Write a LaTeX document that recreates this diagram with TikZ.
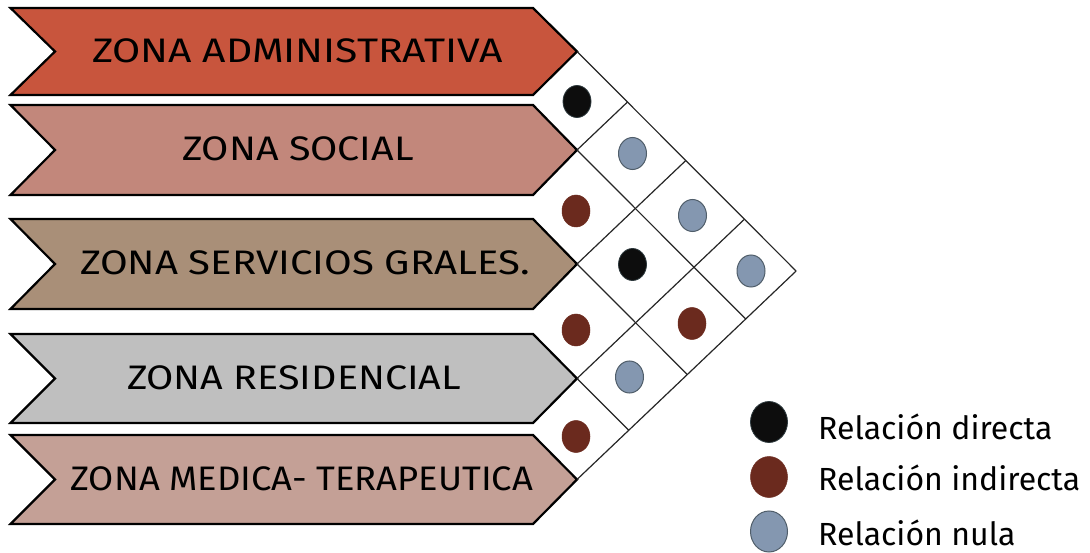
\documentclass[tikz,border=0pt]{standalone}
\usepackage{fontspec}
\setmainfont{Fira Sans}
\usetikzlibrary{calc,shapes.geometric}
\definecolor{cA}{HTML}{C8553D}
\definecolor{cB}{HTML}{C2877B}
\definecolor{cC}{HTML}{A98F78}
\definecolor{cD}{HTML}{BFBFBF}
\definecolor{cE}{HTML}{C4A096}
\definecolor{dotblack}{HTML}{0D0D0D}
\definecolor{dotred}{HTML}{6B2A1E}
\definecolor{dotblue}{HTML}{8497B0}
\definecolor{blueedge}{HTML}{505E6A}
\definecolor{blackedge}{HTML}{2E3A3E}
\begin{document}
\begin{tikzpicture}[x=1pt,y=-1pt,
  chev/.style={draw=black,line width=2.2pt,line join=miter},
  zlabel/.style={font=\fontsize{34}{40}\selectfont,inner sep=0pt,anchor=center},
  gridline/.style={draw=black!85,line width=1.2pt},
  dot/.style={ellipse,minimum width=28pt,minimum height=32pt,inner sep=0pt},
  ldot/.style={ellipse,minimum width=37pt,minimum height=41pt,inner sep=0pt},
  direct/.style={fill=dotblack,draw=blackedge,line width=0.8pt},
  indirect/.style={fill=dotred,draw=dotred,line width=0.5pt},
  nula/.style={fill=dotblue,draw=blueedge,line width=1pt},
  legtext/.style={font=\fontsize{32}{38}\selectfont,inner sep=0pt,anchor=base west}]
\useasboundingbox (0,0) rectangle (1090,553);
% chevrons
\foreach \t/\b/\c/\n/\xc/\sx/\txt in {8/95/cA/1/297.5/1.20/ZONA ADMINISTRATIVA,
  105/195/cB/2/298/1.16/ZONA SOCIAL,
  219/309/cC/3/305/1.18/ZONA SERVICIOS GRALES.,
  334/423/cD/4/294/1.16/ZONA RESIDENCIAL,
  435/524/cE/5/302/1.07/ZONA MEDICA- TERAPEUTICA}{
  \pgfmathsetmacro\m{(\t+\b)/2}
  \draw[chev,fill=\c] (10.5,\t) -- (533,\t) -- (577,\m) -- (533,\b) -- (10.5,\b) -- (55,\m) -- cycle;
  \coordinate (t\n) at (577,\m);
  \coordinate (d\n) at ($(t\n)+(219,219.5)$);
  \coordinate (u\n) at ($(t\n)+(219,-208.5)$);
  \node[zlabel] (z\n) at (\xc,\m-1) {\scalebox{\sx}[1]{\txt}};
}
% grid
\coordinate (R) at (intersection of t1--d1 and t5--u5);
\draw[gridline] (t1) -- (R);
\draw[gridline] (t2) -- (intersection of t2--d2 and t5--u5);
\draw[gridline] (t3) -- (intersection of t3--d3 and t5--u5);
\draw[gridline] (t4) -- (intersection of t4--d4 and t5--u5);
\draw[gridline] (t5) -- (R);
\draw[gridline] (t2) -- (intersection of t1--d1 and t2--u2);
\draw[gridline] (t3) -- (intersection of t1--d1 and t3--u3);
\draw[gridline] (t4) -- (intersection of t1--d1 and t4--u4);
% dots
\node[dot,direct] (r12) at (577,101.5) {};
\node[dot,nula] (r13) at (632.5,153.5) {};
\node[dot,nula] (r14) at (692.5,215.5) {};
\node[dot,nula] (r15) at (751,271) {};
\node[dot,indirect] (r23) at (576,211) {};
\node[dot,direct] (r24) at (632.5,264.5) {};
\node[dot,indirect] (r25) at (692,323.5) {};
\node[dot,indirect] (r34) at (576,330) {};
\node[dot,nula] (r35) at (629.5,377) {};
\node[dot,indirect] (r45) at (576,436.5) {};
% legend
\node[ldot,direct] (l1) at (769,422) {};
\node[ldot,indirect] (l2) at (769,477) {};
\node[ldot,nula] (l3) at (769,531.5) {};
\node[legtext] (lt1) at (818,439) {Relación directa};
\node[legtext] (lt2) at (818,490) {Relación indirecta};
\node[legtext] (lt3) at (818,545) {Relación nula};
\end{tikzpicture}
\end{document}
